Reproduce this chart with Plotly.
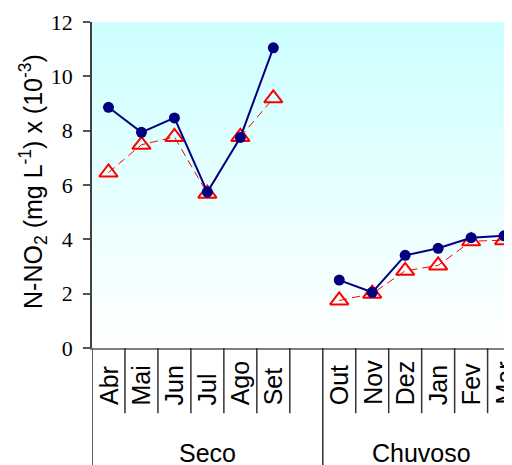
import plotly.graph_objects as go

# ---- data ----
months = ["Abr", "Mai", "Jun", "Jul", "Ago", "Set", "", "Out", "Nov", "Dez", "Jan", "Fev", "Mar"]
series_a = [8.86, 7.94, 8.47, 5.74, 7.75, 11.05, None, 2.50, 2.05, 3.41, 3.67, 4.06, 4.13]
series_b = [6.46, 7.48, 7.77, 5.68, 7.77, 9.19, None, 1.75, 2.00, 2.84, 3.04, 3.93, 3.97]
groups = ["Seco", "Chuvoso"]
group_spans = [(0, 6), (7, 12)]          # first/last slot index of each group
y_ticks = [0, 2, 4, 6, 8, 10, 12]

xs = list(range(len(months)))
X_MIN, X_MAX = -0.5, 12.24
Y_MIN, Y_MAX = 0, 12

SANS = "Liberation Sans, Arial, sans-serif"
SERIF = "Liberation Serif, Times New Roman, serif"

fig = go.Figure()

# gradient plot background
fig.add_trace(go.Scatter(
    x=[X_MIN, 13, 13, X_MIN, X_MIN], y=[Y_MIN, Y_MIN, Y_MAX, Y_MAX, Y_MIN],
    mode="none", fill="toself",
    fillgradient=dict(type="vertical", start=Y_MIN, stop=Y_MAX,
                      colorscale=[[0, "#ffffff"], [1, "#ccffff"]]),
    hoverinfo="skip", showlegend=False))

fig.add_trace(go.Scatter(
    x=xs, y=series_b, mode="lines+markers", connectgaps=False,
    line=dict(color="#ff0000", width=1, dash="8px,5px"),
    marker=dict(symbol="triangle-up-open", size=16, color="#ff0000",
                line=dict(color="#ff0000", width=2)),
    showlegend=False))

fig.add_trace(go.Scatter(
    x=xs, y=series_a, mode="lines+markers", connectgaps=False,
    line=dict(color="#000080", width=2),
    marker=dict(symbol="circle", size=11, color="#000080"),
    showlegend=False))

shapes = []
annotations = []
# category labels
for i, m in enumerate(months):
    if m:
        annotations.append(dict(
            x=i, y=-0.181, xref="x", yref="paper", text=m, showarrow=False,
            textangle=-90, xanchor="center", yanchor="bottom",
            font=dict(family=SANS, size=25, color="black")))
# short dividers between categories
group_edges = [s - 0.5 for s, _ in group_spans]
for i in range(len(months)):
    b = i + 0.5
    if b >= X_MAX or any(abs(b - g) < 1e-9 for g in group_edges):
        continue
    shapes.append(dict(type="line", xref="x", yref="paper", x0=b, x1=b,
                       y0=0, y1=-0.2, line=dict(color="#333333", width=1.5)))
# long group dividers + group labels
for (s, e), g in zip(group_spans, groups):
    edge = s - 0.5
    shapes.append(dict(type="line", xref="x", yref="paper", x0=edge, x1=edge,
                       y0=0, y1=-0.4, line=dict(color="#333333", width=1.5)))
    annotations.append(dict(
        x=(s + e) / 2, y=-0.322, xref="x", yref="paper", text=g, showarrow=False,
        xanchor="center", yanchor="middle",
        font=dict(family=SANS, size=25, color="black")))

# y-axis title
annotations.append(dict(
    x=-0.14, y=0.51, xref="paper", yref="paper",
    text="N-NO<sub>2</sub> (mg L<sup>-1</sup>) x (10<sup>-3</sup>)",
    showarrow=False, textangle=-90, xanchor="center", yanchor="middle",
    font=dict(family=SANS, size=25, color="black")))

# the page body adds an 8px margin, so the figure is 8px smaller than the window
fig.update_layout(
    width=504, height=457,
    margin=dict(l=84, r=0, t=14, b=117),
    paper_bgcolor="white", plot_bgcolor="white",
    shapes=shapes, annotations=annotations,
    xaxis=dict(range=[X_MIN, X_MAX], showgrid=False, zeroline=False,
               showticklabels=False, ticks="", showline=True,
               linecolor="#808080", linewidth=1.5, fixedrange=True),
    yaxis=dict(range=[Y_MIN, Y_MAX], tickvals=y_ticks, showgrid=False,
               zeroline=False, ticks="outside", ticklen=7, tickwidth=1.5,
               tickcolor="#555555", showline=True, linecolor="#404040",
               linewidth=1.5, ticklabelstandoff=6,
               tickfont=dict(family=SERIF, size=22, color="black"),
               fixedrange=True),
)

fig.write_html("out.html")
